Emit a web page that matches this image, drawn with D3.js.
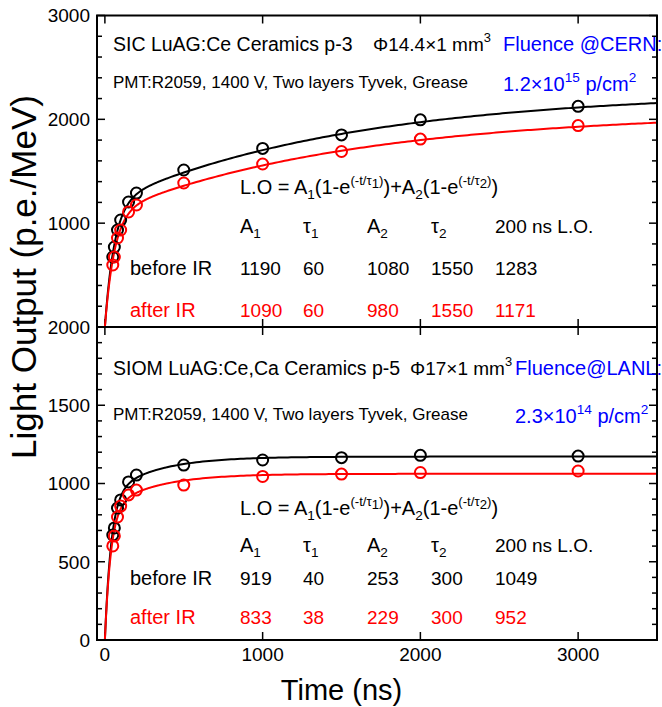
<!DOCTYPE html>
<html>
<head>
<meta charset="utf-8">
<script src="https://cdn.jsdelivr.net/npm/d3@7"></script>
<style>
  html, body { margin: 0; padding: 0; background: #fff; }
  svg { display: block; font-family: "Liberation Sans", Arial, Helvetica, sans-serif; }
</style>
</head>
<body>
<svg id="chart" width="662" height="707"></svg>
<script>
// Time axis ticks (ns)
const timeTicks = [0, 1000, 2000, 3000];
// Sampling times of the measurements (ns)
const times = [50, 60, 80, 100, 150, 200, 500, 1000, 1500, 2000, 3000];

// SIC LuAG:Ce ceramics p-3 — light output (p.e./MeV)
const sicBefore = [674, 770, 934, 1030, 1204, 1290, 1512, 1720, 1850, 1995, 2125];
const sicAfter  = [597, 674, 857, 934, 1108, 1175, 1387, 1570, 1690, 1810, 1940];
// SIOM LuAG:Ce,Ca ceramics p-5 — light output (p.e./MeV)
const siomBefore = [671, 716, 843, 895, 1010, 1054, 1118, 1150, 1165, 1180, 1175];
const siomAfter  = [601, 665, 786, 856, 927, 958, 990, 1045, 1060, 1070, 1080];

// Fit parameters: [A1, tau1, A2, tau2, 200 ns L.O.]
const sicFitBefore  = [1190, 60, 1080, 1550, 1283];
const sicFitAfter   = [1090, 60, 980, 1550, 1171];
const siomFitBefore = [919, 40, 253, 300, 1049];
const siomFitAfter  = [833, 38, 229, 300, 952];

// Y ticks of each panel
const sicTicks = [1000, 2000, 3000];
const siomTicks = [0, 500, 1000, 1500, 2000];

const BLACK = "#000", RED = "#ff0000", BLUE = "#0000ff";

const svg = d3.select("#chart");
const L = 97, R = 657, T = 15.5, MID = 327, B = 640;

const x = d3.scaleLinear().domain([-50, 3500]).range([L, R]);
const yTop = d3.scaleLinear().domain([0, 3000]).range([MID, T]);
const yBot = d3.scaleLinear().domain([0, 2000]).range([B, MID]);

const fit = (p) => (t) => p[0] * (1 - Math.exp(-t / p[1])) + p[2] * (1 - Math.exp(-t / p[3]));
const tGrid = d3.range(0, 40, 0.5).concat(d3.range(40, 400, 2), d3.range(400, 3501, 20));

function panel(id, y, y0, y1, majorStep, minorStep, labelTicks, series) {
  const g = svg.append("g");
  g.append("clipPath").attr("id", id).append("rect")
    .attr("x", L).attr("y", y1).attr("width", R - L).attr("height", y0 - y1);

  // minor/major y ticks on both sides (inward)
  const yd = y.domain();
  const minor = d3.range(yd[0], yd[1] + 1e-6, minorStep);
  minor.forEach(v => {
    const major = Math.abs(v / majorStep - Math.round(v / majorStep)) < 1e-9;
    const len = major ? 8 : 5;
    g.append("line").attr("x1", L).attr("x2", L + len).attr("y1", y(v)).attr("y2", y(v))
      .attr("stroke", BLACK).attr("stroke-width", 1.5);
    g.append("line").attr("x1", R).attr("x2", R - len).attr("y1", y(v)).attr("y2", y(v))
      .attr("stroke", BLACK).attr("stroke-width", 1.5);
  });
  // x ticks on top and bottom edges (inward)
  timeTicks.forEach(t => {
    g.append("line").attr("x1", x(t)).attr("x2", x(t)).attr("y1", y0).attr("y2", y0 - 8)
      .attr("stroke", BLACK).attr("stroke-width", 1.5);
    g.append("line").attr("x1", x(t)).attr("x2", x(t)).attr("y1", y1).attr("y2", y1 + 8)
      .attr("stroke", BLACK).attr("stroke-width", 1.5);
  });

  // y tick labels
  labelTicks.forEach(v => {
    g.append("text").attr("x", 90).attr("y", y(v)).attr("dy", "0.36em")
      .attr("text-anchor", "end").attr("font-size", 19).attr("fill", BLACK).text(v);
  });

  const plot = g.append("g").attr("clip-path", `url(#${id})`);
  series.forEach(s => {
    const f = fit(s.params);
    plot.append("path")
      .datum(tGrid)
      .attr("d", d3.line().x(t => x(t)).y(t => y(f(t))))
      .attr("fill", "none").attr("stroke", s.color).attr("stroke-width", 2);
  });
  series.forEach(s => {
    plot.selectAll(null).data(times.map((t, i) => [t, s.values[i]])).enter()
      .append("circle")
      .attr("cx", d => x(d[0])).attr("cy", d => y(d[1])).attr("r", 5.5)
      .attr("fill", "none").attr("stroke", s.color).attr("stroke-width", 2);
  });
  return g;
}

panel("clipTop", yTop, MID, T, 1000, 200, sicTicks, [
  { params: sicFitBefore, values: sicBefore, color: BLACK },
  { params: sicFitAfter, values: sicAfter, color: RED }
]);
panel("clipBot", yBot, B, MID, 500, 100, siomTicks, [
  { params: siomFitBefore, values: siomBefore, color: BLACK },
  { params: siomFitAfter, values: siomAfter, color: RED }
]);

// frames
svg.append("rect").attr("x", L).attr("y", T).attr("width", R - L).attr("height", B - T)
  .attr("fill", "none").attr("stroke", BLACK).attr("stroke-width", 2);
svg.append("line").attr("x1", L).attr("x2", R).attr("y1", MID).attr("y2", MID)
  .attr("stroke", BLACK).attr("stroke-width", 2);

// x tick labels
timeTicks.forEach(t => {
  svg.append("text").attr("x", x(t)).attr("y", 661).attr("text-anchor", "middle")
    .attr("font-size", 19).attr("fill", BLACK).text(t);
});

// axis titles
svg.append("text").attr("x", x(1500)).attr("y", 700).attr("text-anchor", "middle")
  .attr("font-size", 29).attr("fill", BLACK).text("Time (ns)");
svg.append("text").attr("transform", "translate(36,277) rotate(-90)").attr("text-anchor", "middle")
  .attr("font-size", 35).attr("fill", BLACK).text("Light Output (p.e./MeV)");

// helper: text built from [string, level, relSize] parts;
// level: 0 normal, 1 superscript, -1 subscript, 2 subscript inside a superscript
function rich(xp, yp, size, color, parts) {
  const t = svg.append("text").attr("x", xp).attr("y", yp).attr("font-size", size).attr("fill", color)
    .attr("xml:space", "preserve");
  let cur = 0;
  parts.forEach(([s, lvl, rel]) => {
    const scale = rel || (lvl === 0 ? 1 : 0.68);
    const off = lvl === 1 ? -0.45 * size : lvl === -1 ? 0.25 * size : lvl === 2 ? -0.3 * size : 0;
    t.append("tspan").attr("dy", off - cur).attr("font-size", size * scale).text(s);
    cur = off;
  });
  return t;
}

// panel headers
function header(yTitle, ySub, name, dims, dimsX, fluence, fluX, flux, fluExp) {
  svg.append("text").attr("x", 113).attr("y", yTitle).attr("font-size", 19.5).attr("fill", BLACK).text(name);
  rich(dimsX, yTitle, 19, BLACK, [[dims, 0], ["3", 1]]);
  svg.append("text").attr("x", fluX).attr("y", yTitle).attr("font-size", 20).attr("fill", BLUE).text(fluence);
  svg.append("text").attr("x", 113).attr("y", ySub).attr("font-size", 17).attr("fill", BLACK)
    .text("PMT:R2059, 1400 V, Two layers Tyvek, Grease");
  rich(fluX, ySub + 3, 20, BLUE, [[flux, 0], [fluExp, 1], [" p/cm", 0], ["2", 1]]);
}
header(51, 88, "SIC LuAG:Ce Ceramics p-3", "\u03A614.4\u00D71 mm", 373,
  "Fluence @CERN:", 503, "1.2\u00D710", "15");
header(375, 420, "SIOM LuAG:Ce,Ca Ceramics p-5", "\u03A617\u00D71 mm", 410,
  "Fluence@LANL:", 515, "2.3\u00D710", "14");

// fit tables
const cols = [240, 303, 367, 431, 495];
function table(yF, yH, yB, yA, before, after) {
  rich(240, yF, 20, BLACK, [
    ["L.O = A", 0], ["1", -1], ["(1-e", 0], ["(-t/\u03C4", 1, 0.66], ["1", 2, 0.66], [")", 1, 0.66],
    [")+A", 0], ["2", -1], ["(1-e", 0], ["(-t/\u03C4", 1, 0.66], ["2", 2, 0.66], [")", 1, 0.66], [")", 0]
  ]);
  const heads = [["A", "1"], ["\u03C4", "1"], ["A", "2"], ["\u03C4", "2"]];
  heads.forEach((h, i) => rich(cols[i], yH, 20, BLACK, [[h[0], 0], [h[1], -1]]));
  svg.append("text").attr("x", cols[4]).attr("y", yH).attr("font-size", 19).attr("fill", BLACK).text("200 ns L.O.");
  svg.append("text").attr("x", 130).attr("y", yB).attr("font-size", 20).attr("fill", BLACK).text("before IR");
  svg.append("text").attr("x", 130).attr("y", yA).attr("font-size", 20).attr("fill", RED).text("after IR");
  before.forEach((v, i) => svg.append("text").attr("x", cols[i]).attr("y", yB).attr("font-size", 19)
    .attr("fill", BLACK).text(v));
  after.forEach((v, i) => svg.append("text").attr("x", cols[i]).attr("y", yA).attr("font-size", 19)
    .attr("fill", RED).text(v));
}
table(194, 233, 275, 317, sicFitBefore, sicFitAfter);
table(515, 552, 585, 624, siomFitBefore, siomFitAfter);
</script>
</body>
</html>
